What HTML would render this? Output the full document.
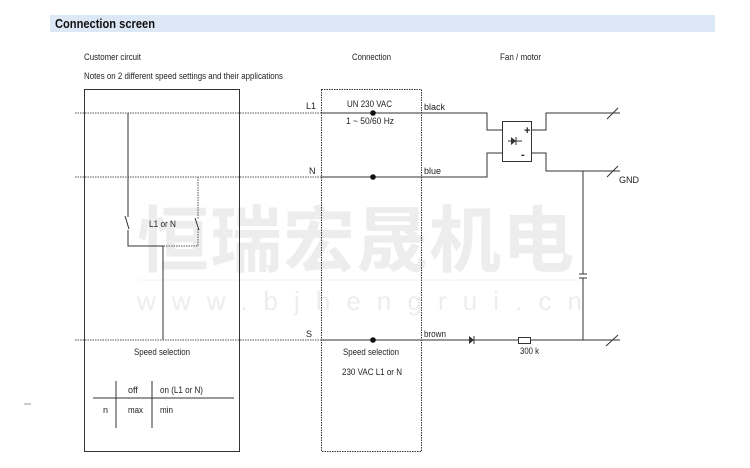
<!DOCTYPE html>
<html><head><meta charset="utf-8"><style>
html,body{margin:0;padding:0;background:#fff;}
svg{display:block;}
text{font-family:"Liberation Sans",Arial,sans-serif;font-size:9px;fill:#222;}
</style></head><body>
<svg width="750" height="468" viewBox="0 0 750 468" xmlns="http://www.w3.org/2000/svg">
<rect x="50" y="15" width="665" height="17" fill="#dde8f7"/>
<text x="55" y="28" style="font-size:12.5px;font-weight:bold;fill:#111" textLength="100" lengthAdjust="spacingAndGlyphs">Connection screen</text>
<!-- watermark -->
<text x="137" y="266" style="font-family:'Noto Sans CJK SC',sans-serif;font-size:72px;font-weight:bold;fill:#ededed" textLength="437" lengthAdjust="spacing">恒瑞宏晟机电</text>
<text x="137" y="310" style="font-size:26px;fill:#ededed" textLength="445" lengthAdjust="spacing">www.bjhengrui.cn</text>
<line x1="140" y1="280" x2="580" y2="280" stroke="#f2f2f2"/>

<text x="84" y="60" textLength="57" lengthAdjust="spacingAndGlyphs">Customer circuit</text>
<text x="84" y="79" textLength="199" lengthAdjust="spacingAndGlyphs">Notes on 2 different speed settings and their applications</text>
<text x="352" y="60" textLength="39" lengthAdjust="spacingAndGlyphs">Connection</text>
<text x="500" y="60" textLength="41" lengthAdjust="spacingAndGlyphs">Fan / motor</text>

<g fill="none" stroke="#333" stroke-width="1">
<rect x="84.5" y="89.5" width="155" height="362"/>
<rect x="321.5" y="89.5" width="100" height="362" stroke-dasharray="1.5,1"/>
<g stroke-dasharray="1.5,1" stroke="#555">
<line x1="75" y1="113" x2="321" y2="113"/>
<line x1="75" y1="177" x2="321" y2="177"/>
<line x1="75" y1="340" x2="321" y2="340"/>
<polyline points="198,177 198,219"/>
<polyline points="198,229 198,246 163,246"/>
</g>
<polyline points="128,113 128,217"/>
<line x1="125" y1="216" x2="129" y2="229"/>
<polyline points="128,230 128,246 163,246 163,340"/>
<line x1="195" y1="218" x2="199" y2="230"/>
<polyline points="321,113 487,113 487,130 502,130"/>
<polyline points="321,177 487,177 487,153 502,153"/>
<rect x="502.5" y="121.5" width="29" height="40"/>
<polyline points="531,130 546,130 546,113 620,113"/>
<polyline points="531,153 546,153 546,171 620,171"/>
<line x1="607" y1="119" x2="618" y2="108"/>
<line x1="607" y1="177" x2="618" y2="166"/>
<line x1="321" y1="340" x2="620" y2="340"/>
<line x1="606" y1="346" x2="618" y2="335"/>
<polyline points="583,171 583,274"/>
<polyline points="583,278 583,340"/>
<line x1="579" y1="274" x2="587" y2="274"/>
<line x1="579" y1="278" x2="587" y2="278"/>
<rect x="518.5" y="337.5" width="12" height="6" fill="#fff"/>
<line x1="474" y1="336" x2="474" y2="344"/>
<line x1="508" y1="141" x2="522" y2="141"/>
<line x1="516" y1="137" x2="516" y2="145"/>
<line x1="93" y1="398" x2="234" y2="398"/>
<line x1="116" y1="381" x2="116" y2="428"/>
<line x1="152" y1="381" x2="152" y2="428"/>
<line x1="24" y1="404" x2="31" y2="404" stroke="#999"/>
</g>
<polygon points="469,336 474,340 469,344" fill="#333"/>
<polygon points="511,137 516,141 511,145" fill="#333"/>
<circle cx="373" cy="113" r="2.8" fill="#111"/>
<circle cx="373" cy="177" r="2.8" fill="#111"/>
<circle cx="373" cy="340" r="2.8" fill="#111"/>
<text x="524" y="134" style="font-size:11px;font-weight:bold">+</text>
<text x="521" y="158" style="font-size:11px;font-weight:bold">-</text>

<text x="306" y="109">L1</text>
<text x="309" y="174">N</text>
<text x="306" y="337">S</text>
<text x="347" y="107" textLength="45" lengthAdjust="spacingAndGlyphs">UN 230 VAC</text>
<text x="346" y="124" textLength="48" lengthAdjust="spacingAndGlyphs">1 ~ 50/60 Hz</text>
<text x="424" y="110">black</text>
<text x="424" y="174">blue</text>
<text x="424" y="337" textLength="22" lengthAdjust="spacingAndGlyphs">brown</text>
<text x="619" y="183">GND</text>
<text x="520" y="354" textLength="19" lengthAdjust="spacingAndGlyphs">300 k</text>
<text x="149" y="227" textLength="27" lengthAdjust="spacingAndGlyphs">L1 or N</text>
<text x="134" y="355" textLength="56" lengthAdjust="spacingAndGlyphs">Speed selection</text>
<text x="343" y="355" textLength="56" lengthAdjust="spacingAndGlyphs">Speed selection</text>
<text x="342" y="375" textLength="60" lengthAdjust="spacingAndGlyphs">230 VAC L1 or N</text>
<text x="128" y="393">off</text>
<text x="160" y="393" textLength="43" lengthAdjust="spacingAndGlyphs">on (L1 or N)</text>
<text x="103" y="413">n</text>
<text x="128" y="413" textLength="15" lengthAdjust="spacingAndGlyphs">max</text>
<text x="160" y="413" textLength="13" lengthAdjust="spacingAndGlyphs">min</text>
</svg>
</body></html>
